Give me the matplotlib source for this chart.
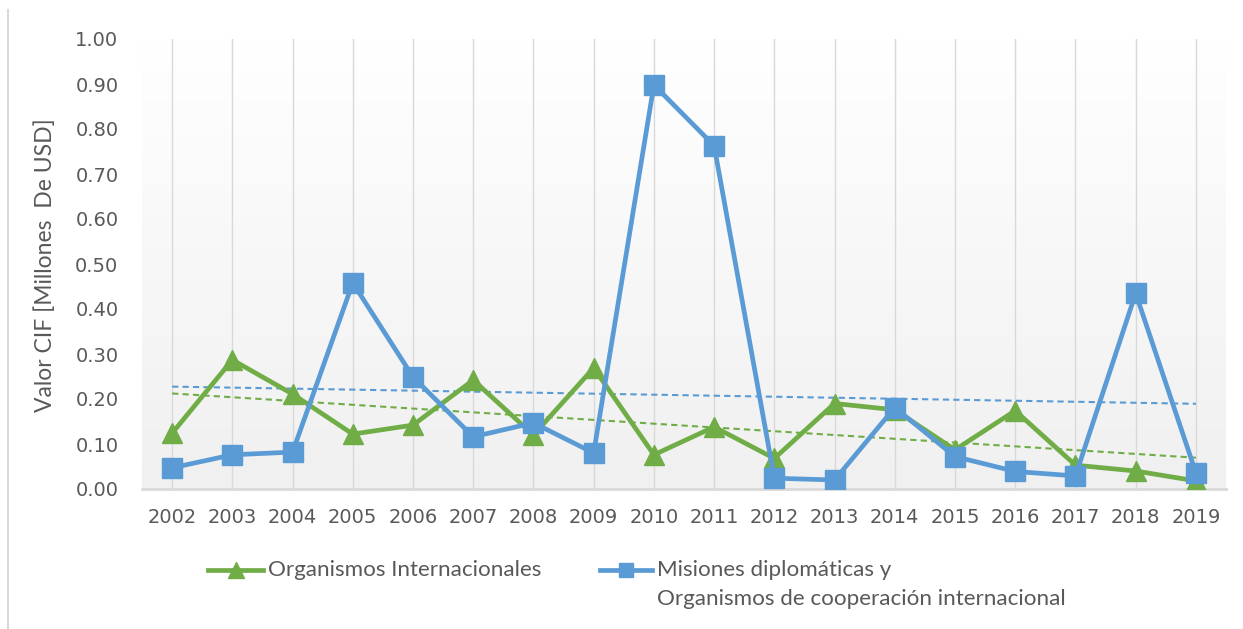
import numpy as np
import matplotlib
matplotlib.use("Agg")
import matplotlib.pyplot as plt
from matplotlib.lines import Line2D

# Data
years = list(range(2002, 2020))
organismos = [0.124, 0.287, 0.211, 0.122, 0.142, 0.242, 0.120, 0.269, 0.076,
              0.138, 0.068, 0.190, 0.176, 0.087, 0.174, 0.053, 0.040, 0.018]
misiones = [0.047, 0.076, 0.082, 0.458, 0.249, 0.116, 0.147, 0.080, 0.898,
            0.763, 0.024, 0.020, 0.181, 0.072, 0.039, 0.029, 0.435, 0.036]
y_ticks = [0.0, 0.1, 0.2, 0.3, 0.4, 0.5, 0.6, 0.7, 0.8, 0.9, 1.0]

label_org = "Organismos Internacionales"
label_mis = ["Misiones diplomáticas y", "Organismos de cooperación internacional"]
y_label = "Valor CIF [Millones  De USD]"

green = "#70AD47"
blue = "#5B9BD5"
gray_text = "#595959"
grid_gray = "#D9D9D9"

W, H = 1243, 629
fig = plt.figure(figsize=(W / 100, H / 100), dpi=100)
ax = fig.add_axes([142 / W, 1 - 489 / H, (1226 - 142) / W, (489 - 39) / H])

# plot area gradient: white at top to light gray at bottom
grad = np.linspace(1.0, 0.0, 256).reshape(-1, 1)
cmap = matplotlib.colors.LinearSegmentedColormap.from_list("g", ["#F0F0F0", "#FFFFFF"])
ax.imshow(grad, extent=[0, 1, 0, 1], transform=ax.transAxes, aspect="auto",
          cmap=cmap, zorder=0, interpolation="bicubic")

for yr in years:
    ax.axvline(yr, color=grid_gray, lw=1.0, zorder=1)

ax.plot(years, organismos, color=green, lw=3.4, marker="^", markersize=14.5,
        zorder=3)
ax.plot(years, misiones, color=blue, lw=3.4, marker="s", markersize=14.5,
        zorder=4)

# linear trend lines
x = np.array(years, dtype=float)
for vals, col in [(misiones, blue), (organismos, green)]:
    k, b = np.polyfit(x, vals, 1)
    ax.plot(x, k * x + b, color=col, lw=1.5, ls=(0, (3, 2)), zorder=2)

ax.set_xlim(2001.5, 2019.5)
ax.set_ylim(0, 1.0)
ax.set_xticks(years)
ax.set_xticklabels([str(y) for y in years])
ax.set_yticks(y_ticks)
ax.set_yticklabels([f"{v:.2f}" for v in y_ticks])
ax.tick_params(axis="both", length=0, labelsize=14, colors=gray_text)
ax.tick_params(axis="y", pad=17)
ax.tick_params(axis="x", pad=14)
for s in ["top", "right", "left"]:
    ax.spines[s].set_visible(False)
ax.spines["bottom"].set_color(grid_gray)
ax.spines["bottom"].set_linewidth(2)

fig.text(45 / W, 1 - 265 / H, y_label, rotation=90, ha="center",
         va="center", fontsize=16.5, color=gray_text, family="Lato")

# legend drawn by hand to mimic the Excel layout
def handle(x0, x1, y, col, marker, ms):
    yf = 1 - y / H
    fig.add_artist(Line2D([x0 / W, x1 / W], [yf, yf], color=col, lw=3.4,
                          transform=fig.transFigure))
    fig.add_artist(Line2D([(x0 + x1) / 2 / W], [yf], color=col, marker=marker,
                          markersize=ms, lw=0, transform=fig.transFigure))

handle(208, 263, 570, green, "^", 11)
fig.text(268 / W, 1 - 570 / H, label_org, ha="left", va="center",
         fontsize=16.1, color=gray_text, family="Lato")

handle(600, 652, 570, blue, "s", 10.5)
fig.text(657 / W, 1 - 570 / H, label_mis[0], ha="left", va="center",
         fontsize=16.1, color=gray_text, family="Lato")
fig.text(657 / W, 1 - 599 / H, label_mis[1], ha="left", va="center",
         fontsize=16.1, color=gray_text, family="Lato")

# light border at the left edge of the chart
fig.add_artist(Line2D([8 / W, 8 / W], [0, 1 - 10 / H], color=grid_gray,
                      lw=1.5, transform=fig.transFigure))

fig.savefig("out.png", dpi=100)
